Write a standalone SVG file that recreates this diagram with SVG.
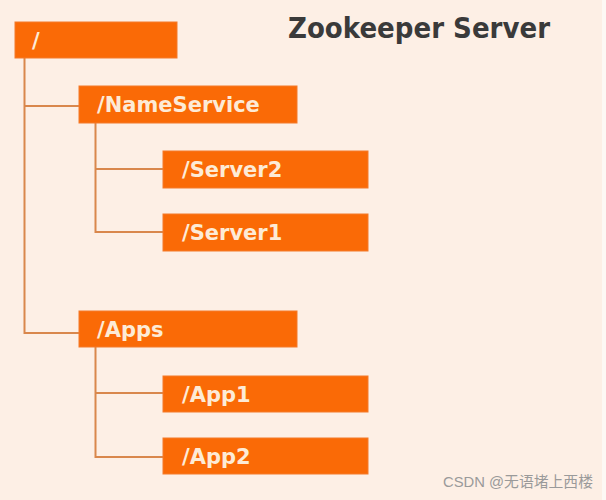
<svg xmlns="http://www.w3.org/2000/svg" width="606" height="500" viewBox="0 0 606 500">
<style>
.box{fill:#fa6a06;stroke:#f47a2a;stroke-width:1}
.lbl{font-family:"DejaVu Sans",Verdana,sans-serif;font-weight:bold;font-size:21px;fill:#fdebd6}
.ln{stroke:#d9874c;stroke-width:2;fill:none}
</style>
<rect x="0" y="0" width="606" height="500" fill="#fdefe5"/>
<rect x="602" y="0" width="4" height="500" fill="#fdf8f4"/>
<text x="288" y="38" font-family="DejaVu Sans,Verdana,sans-serif" font-weight="bold" font-size="28" fill="#3a3a3a" textLength="262" lengthAdjust="spacingAndGlyphs">Zookeeper Server</text>
<g id="connectors">
<path class="ln" d="M24.5 58 V333 H79"/>
<path class="ln" d="M24.5 106 H79"/>
<path class="ln" d="M95.5 123 V232 H163"/>
<path class="ln" d="M95.5 169 H163"/>
<path class="ln" d="M95.5 347 V457 H163"/>
<path class="ln" d="M95.5 393 H163"/>
</g>
<g id="root"><rect class="box" x="15" y="22" width="162" height="36"/><text class="lbl" x="32" y="48">/</text></g>
<g id="nameservice"><rect class="box" x="79" y="86" width="218" height="37"/><text class="lbl" x="97" y="112">/NameService</text></g>
<g id="server2"><rect class="box" x="163" y="151" width="205" height="37"/><text class="lbl" x="182" y="177">/Server2</text></g>
<g id="server1"><rect class="box" x="163" y="214" width="205" height="37"/><text class="lbl" x="182" y="240">/Server1</text></g>
<g id="apps"><rect class="box" x="79" y="311" width="218" height="36"/><text class="lbl" x="97" y="337">/Apps</text></g>
<g id="app1"><rect class="box" x="163" y="376" width="205" height="36"/><text class="lbl" x="182" y="402">/App1</text></g>
<g id="app2"><rect class="box" x="163" y="438" width="205" height="36"/><text class="lbl" x="182" y="464">/App2</text></g>
<text x="443" y="487" font-family="Liberation Sans,Arial,Noto Sans CJK SC,sans-serif" font-size="15" fill="#9a9a9a" textLength="150" lengthAdjust="spacingAndGlyphs">CSDN @无语堵上西楼</text>
</svg>
